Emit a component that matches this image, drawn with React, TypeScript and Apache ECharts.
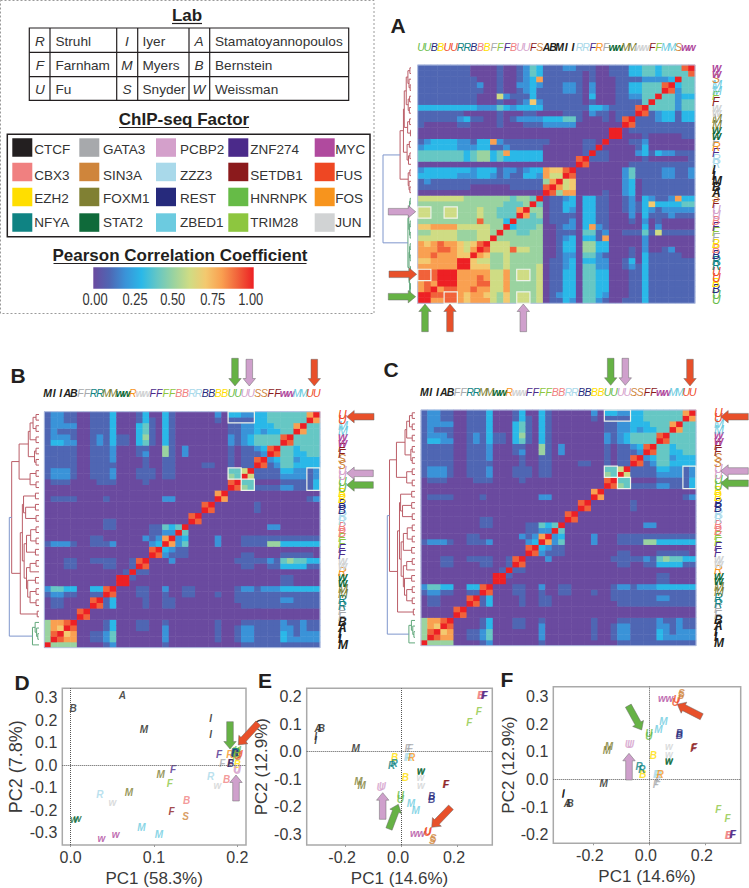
import React, { useEffect, useRef } from "react";
import * as echarts from "echarts";

const SANS = '"Liberation Sans", Arial, sans-serif';

const factorColors: Record<string, string> = {
  CTCF: "#231f20", GATA3: "#a7a9ac", PCBP2: "#d4a0cb", ZNF274: "#4b2a8a", MYC: "#b04a9e",
  CBX3: "#f08080", SIN3A: "#cf853b", ZZZ3: "#a9d9ea", SETDB1: "#8b1a1c", FUS: "#ee4723",
  EZH2: "#ffde00", FOXM1: "#808033", REST: "#262a7c", HNRNPK: "#66bb47", FOS: "#f7941d",
  NFYA: "#0f8383", STAT2: "#0f6a3a", ZBED1: "#6ccbe0", TRIM28: "#8dc63f", JUN: "#d1d3d4",
};
const boldFactors = ["CTCF", "STAT2", "MYC", "JUN"];
const factorGrid = [
  ["CTCF", "GATA3", "PCBP2", "ZNF274", "MYC"],
  ["CBX3", "SIN3A", "ZZZ3", "SETDB1", "FUS"],
  ["EZH2", "FOXM1", "REST", "HNRNPK", "FOS"],
  ["NFYA", "STAT2", "ZBED1", "TRIM28", "JUN"],
];
const labTable = [
  ["R", "Struhl", "I", "Iyer", "A", "Stamatoyannopoulos"],
  ["F", "Farnham", "M", "Myers", "B", "Bernstein"],
  ["U", "Fu", "S", "Snyder", "W", "Weissman"],
];
const colorStops = ["#6a4a9f", "#4f66b3", "#3a93d8", "#2ab8e8", "#66c7c4", "#9ad3a0", "#cfdc84", "#f3c96f", "#f9a051", "#f1623a", "#ed2024"];
const barTicks = ["0.00", "0.25", "0.50", "0.75", "1.00"];

// label, factor of each matrix position, left to right (= bottom to top)
const lettersA = "U U B B U U R R B B B F F F B U U F S A B M I I R R F R F w w M M w w F F M M S w w".split(" ");
const factorsA = ["HNRNPK","HNRNPK","REST","EZH2","FUS","FUS","NFYA","NFYA","REST","CBX3","EZH2","GATA3","TRIM28","ZNF274","CBX3","PCBP2","PCBP2","SETDB1","SIN3A","CTCF","CTCF","CTCF","CTCF","CTCF","ZZZ3","ZZZ3","ZNF274","FOS","GATA3","STAT2","STAT2","FOXM1","FOXM1","JUN","JUN","SETDB1","TRIM28","ZBED1","ZBED1","SIN3A","MYC","MYC"];
const lettersB = "M I I A B F F R R M M w w R w w F F F F B B R R B B B B U U U U S S F F w w M M U U".split(" ");
const factorsB = ["CTCF","CTCF","CTCF","CTCF","CTCF","GATA3","GATA3","NFYA","NFYA","FOXM1","FOXM1","STAT2","STAT2","FOS","JUN","JUN","ZNF274","ZNF274","TRIM28","TRIM28","CBX3","CBX3","ZZZ3","ZZZ3","REST","REST","EZH2","EZH2","HNRNPK","HNRNPK","PCBP2","PCBP2","SIN3A","SIN3A","SETDB1","SETDB1","MYC","MYC","ZBED1","ZBED1","FUS","FUS"];

// Symmetric matrices: one string per row from the top, up to the diagonal. 0-9 = tenths, a = 1.00
const rowsA = [
  "111111 110000 100124 311122 111001 113344 34449a",
  "111111 110000 100124 311111 101001 113344 34444a",
  "111111 111000 100123 811111 101000 111122 223a",
  "111111 111200 100223 211122 102000 113344 49a",
  "111111 111100 100123 111122 102000 113344 4a",
  "111111 111000 621113 111111 103000 112244 a",
  "111111 111000 100127 211111 101000 11114a",
  "333333 333222 432333 311111 113321 1119a",
  "111111 100000 100011 000011 102110 111a",
  "111111 231100 101222 233344 100010 19a",
  "100000 110000 100011 122222 000000 0a",
  "000000 000000 000000 000000 00000a a",
  "000000 000000 000000 000000 00000a",
  "123333 221338 211111 110000 0110a",
  "233333 222331 121111 100000 011a",
  "444444 434553 483333 300000 01a",
  "444444 434553 433333 300000 9a",
  "000000 000000 000000 000000 a",
  "233333 332333 122123 387 79a",
  "333333 222332 121133 286 6a",
  "121111 111111 111111 158a",
  "111111 110000 001111 19a",
  "000000 000000 000000 0a",
  "666666 655555 554554 a",
  "555555 555555 54445a",
  "665566 555655 4448a",
  "665566 555655 444a",
  "555555 555955 53a",
  "778888 666665 5a",
  "556666 555665 a",
  "666666 55566a",
  "878988 7679a",
  "888998 768a",
  "889888 77a",
  "778888 aa",
  "888888 a",
  "999aaa",
  "999aa",
  "898a",
  "89a",
  "aa",
  "a",
];
const rowsB = [
  "122110 011130 001300 310000 002033 223344 44448a",
  "122110 011130 001310 310000 001011 113344 4444a",
  "122220 011130 003410 310000 000011 223334 448a",
  "121110 011130 003410 310000 000011 223233 44a",
  "122210 012131 103510 310000 000021 234444 9a",
  "133220 012131 103410 310000 000021 234444 a",
  "111110 011120 001100 510200 000010 11239a",
  "111110 011120 001200 510200 000010 1112a",
  "111110 011120 000100 110000 000010 119a",
  "111110 011110 000100 110000 110010 11a",
  "122210 011120 001110 110000 000044 6a",
  "122210 011120 001110 110000 000054 a",
  "011100 001110 000100 000000 00009a",
  "000000 000000 000000 000000 0000a",
  "000000 000000 000000 000000 008a",
  "011110 000100 000000 220000 00a",
  "000000 000000 000000 000000 9a",
  "000000 000000 000000 000000 a",
  "000000 000000 000000 00009a",
  "000000 000110 000000 0000a",
  "000000 000110 000011 434a",
  "000000 000000 000011 22a",
  "000000 011000 000212 8a",
  "122210 011120 000023 a",
  "000000 000000 00009a",
  "000000 000000 0000a",
  "000110 011110 019a",
  "000110 000110 01a",
  "000000 000000 1a",
  "000000 00000a a",
  "000000 00000a",
  "244330 03 39a",
  "122110 011a",
  "011000 09a",
  "011000 0a",
  "000009 a",
  "00000a",
  "58 89a",
  "587a",
  "59a",
  "5a",
  "a",
];

// Dendrograms: [height, child, child, colour key], leaves are row numbers from the top
type Tree = number | [number, Tree, Tree, string?];
const treeA: Tree = [1,
  [.39,
    [.27,
      [.24,
        [.17, [.11, [.04, 0, 1], [.07, 2, [.03, 3, 4]]], [.1, [.05, 5, 6], [.06, 7, 8]]],
        [.12, [.05, 9, 10], [.02, 11, 12]]],
      [.14, [.06, 13, 14], [.09, [.04, 15, 16], 17]]],
    [.1, [.04, 18, 19], [.07, 20, [.04, 21, 22]]], "red"],
  [.11,
    [.08, [.05, [.03, 23, 24], [.03, 25, 26]], [.05, [.03, 27, 28], [.03, 29, 30]]],
    [.07, [.05, [.03, 31, 32], [.03, 33, 34]], [.05, [.03, [.02, 35, 36], 37], [.03, [.02, 38, 39], [.02, 40, 41]]]], "green"],
  "blue"];
const treeB: Tree = [1,
  [.92,
    [.67,
      [.36, [.3, [.2, [.1, 0, 1], [.1, 2, 3]], [.1, 4, 5]], [.15, [.1, 6, 7], [.1, 8, 9]]],
      [.3, [.1, 10, 11], [.1, 12, 13]]],
    [.63,
      [.56,
        [.52, [.12, 14, 15], [.45, [.12, 16, 17], [.1, 18, 19]]],
        [.5,
          [.42, [.28, [.1, 20, 21], [.1, 22, 23]], [.12, 24, 25]],
          [.42, [.3, [.1, 26, 27], 28], [.38, [.12, 29, 30], [.3, [.1, 31, 32], [.1, 33, 34]]]]]],
      [.06, 35, 36]], "red"],
  [.22, [.13, 37, [.08, 38, [.04, 39, 40]]], 41, "green"],
  "blue"];
const treeColors: Record<string, string> = { red: "#bb5e68", green: "#62a87c", blue: "#7f96cc" };

// PCA points: [PC1, PC2, letter, factor]
type P = [number, number, string, string];
const pointsD: P[] = [
  [.062,.31,"A","CTCF"],[.003,.254,"B","CTCF"],[.088,.16,"M","CTCF"],[.168,.21,"I","CTCF"],[.168,.137,"I","CTCF"],
  [.178,.05,"F","ZNF274"],[.182,.006,"F","GATA3"],[.197,.048,"F","GATA3"],[.191,.05,"R","FOS"],
  [.192,.006,"F","SETDB1"],[.192,.01,"B","REST"],[.2,.002,"B","EZH2"],[.2,.055,"B","EZH2"],
  [.199,-.02,"U","PCBP2"],[.2,-.022,"U","PCBP2"],[.2,.065,"U","HNRNPK"],[.198,.06,"U","HNRNPK"],
  [.202,.05,"U","FUS"],[.2,.045,"U","FUS"],[.201,.04,"S","SIN3A"],[.196,.055,"R","NFYA"],[.198,.055,"R","NFYA"],
  [.168,-.05,"R","ZZZ3"],[.176,-.088,"w","JUN"],[.187,-.065,"B","CBX3"],[.197,.052,"B","REST"],
  [.108,-.043,"M","FOXM1"],[.123,-.018,"F","ZNF274"],[.119,-.083,"F","TRIM28"],[.198,.04,"F","TRIM28"],
  [.035,-.128,"R","ZZZ3"],[.05,-.166,"w","JUN"],[.07,-.122,"M","FOXM1"],[.139,-.157,"B","CBX3"],
  [.121,-.207,"F","SETDB1"],[.138,-.226,"S","SIN3A"],[.004,-.24,"w","STAT2"],[.008,-.236,"w","STAT2"],
  [.085,-.278,"M","ZBED1"],[.106,-.306,"M","ZBED1"],[.054,-.306,"w","MYC"],[.037,-.324,"w","MYC"],
];
const pointsE: P[] = [
  [-.298,.083,"A","CTCF"],[-.287,.083,"B","CTCF"],[-.307,.055,"I","CTCF"],[-.307,.042,"I","CTCF"],[-.164,.011,"M","CTCF"],
  [.021,.013,"F","GATA3"],[.03,.013,"F","GATA3"],[.021,-.02,"R","ZZZ3"],[.026,-.02,"R","ZZZ3"],[.036,-.02,"R","FOS"],
  [-.025,-.02,"B","EZH2"],[.013,-.093,"B","EZH2"],[-.036,-.049,"R","NFYA"],[-.027,-.042,"R","NFYA"],
  [.069,-.073,"w","STAT2"],[.069,-.068,"w","STAT2"],[.067,-.093,"w","JUN"],[.069,-.124,"w","JUN"],
  [.157,-.118,"F","SETDB1"],[.16,-.118,"F","SETDB1"],[-.154,-.109,"M","FOXM1"],[-.143,-.121,"M","FOXM1"],
  [-.077,-.131,"U","PCBP2"],[-.069,-.127,"U","PCBP2"],[-.004,-.16,"U","HNRNPK"],[-.004,-.174,"U","HNRNPK"],
  [.107,-.164,"B","REST"],[.107,-.174,"B","REST"],[.033,-.188,"M","ZBED1"],[.05,-.215,"M","ZBED1"],
  [.044,-.297,"w","MYC"],[.07,-.297,"w","MYC"],[.095,-.291,"U","FUS"],[.092,-.295,"U","FUS"],
  [.113,-.316,"S","SIN3A"],[.11,-.322,"S","SIN3A"],[.282,.203,"B","CBX3"],[.285,.203,"B","CBX3"],
  [.294,.204,"F","ZNF274"],[.297,.204,"F","ZNF274"],[.276,.146,"F","TRIM28"],[.242,.107,"F","TRIM28"],
];
const pointsF: P[] = [
  [-.293,-.087,"A","CTCF"],[-.283,-.087,"B","CTCF"],[-.307,-.05,"I","CTCF"],[-.308,-.056,"I","CTCF"],[-.163,-.014,"M","CTCF"],
  [.023,-.017,"F","GATA3"],[.03,-.008,"F","GATA3"],[.026,.016,"R","ZZZ3"],[.03,.016,"R","ZZZ3"],[.038,.016,"R","FOS"],
  [-.023,.016,"B","EZH2"],[.014,.088,"B","EZH2"],[-.037,.045,"R","NFYA"],[-.027,.037,"R","NFYA"],
  [.07,.069,"w","STAT2"],[.07,.064,"w","STAT2"],[.07,.09,"w","JUN"],[.07,.12,"w","JUN"],
  [.16,.114,"F","SETDB1"],[.157,.112,"F","SETDB1"],[-.144,.118,"M","FOXM1"],[-.152,.104,"M","FOXM1"],
  [-.075,.127,"U","PCBP2"],[-.067,.127,"U","PCBP2"],[-.002,.166,"U","HNRNPK"],[-.002,.154,"U","HNRNPK"],
  [.107,.166,"B","REST"],[.107,.157,"B","REST"],[.05,.208,"M","ZBED1"],[.032,.181,"M","ZBED1"],
  [.045,.293,"w","MYC"],[.071,.293,"w","MYC"],[.098,.287,"U","FUS"],[.093,.278,"U","FUS"],
  [.115,.311,"S","SIN3A"],[.112,.305,"S","SIN3A"],[.282,-.204,"B","CBX3"],[.285,-.204,"B","CBX3"],
  [.296,-.201,"F","ZNF274"],[.299,-.201,"F","ZNF274"],[.246,-.108,"F","TRIM28"],[.279,-.143,"F","TRIM28"],
];

const ARROW = { green: "#66b245", red: "#e8502a", pink: "#cfa0cc" } as Record<string, string>;
const arrows: [number, number, number, number, string][] = [
  [388.3,211.7,415.7,211.7,"pink"],[389,274.3,416.7,274.3,"red"],[388.3,296.7,415.7,296.7,"green"],
  [425,331.7,425,304,"green"],[450,331.7,450,304,"red"],[523.3,331.7,523.3,304,"pink"],
  [235,358.3,235,386,"green"],[249.3,359.3,249.3,386,"pink"],[314.3,359.3,314.3,386,"red"],
  [374,416.7,346.7,416.7,"red"],[373.3,473.3,346.7,473.3,"pink"],[373.3,485,346.7,485,"green"],
  [610.7,358.3,610.7,385.3,"green"],[625.3,358.3,625.3,385.3,"pink"],[690,359.3,690,386,"red"],
  [748.3,416.7,720.7,416.7,"red"],[748.3,471,720.7,471,"pink"],[748.3,483.3,720.7,483.3,"green"],
  [230,721.7,230,749,"green"],[258.3,723.3,238.3,745,"red"],[236,801,236,775,"pink"],
  [382.7,819.3,382.7,792.7,"pink"],[389,829,398.3,804.3,"green"],[451,807.3,431.7,827.3,"red"],
  [629,780,629,753.3,"pink"],[628.3,705.7,641.7,730,"green"],[701.7,716.7,677.3,704.3,"red"],
];
const panelLetters: [string, number, number][] = [["A",398,25],["B",18,375],["C",391,369],["D",22,682],["E",265,680],["F",507,679]];

function decode(rows: string[]) {
  const clean = rows.map((s) => s.replace(/\s/g, ""));
  const out: number[][] = [];
  const val = (i: number, j: number) => {
    const ch = clean[41 - i]?.[j] ?? "0";
    return ch === "a" ? 1 : Number(ch) / 10;
  };
  for (let i = 0; i < 42; i++) for (let j = 0; j < 42; j++) out.push([i, j, j <= i ? val(i, j) : val(j, i)]);
  return out;
}

function treeSegments(t: Tree) {
  const segs: number[][] = [];
  const keys = Object.keys(treeColors);
  const walk = (n: Tree, color: string): { y: number; h: number } => {
    if (typeof n === "number") return { y: 41 - n, h: 0 };
    const c = n[3] ?? color;
    const a = walk(n[1], c);
    const b = walk(n[2], c);
    const k = keys.indexOf(c);
    segs.push([n[0], a.y, n[0], b.y, k], [a.h, a.y, n[0], a.y, k], [b.h, b.y, n[0], b.y, k]);
    return { y: (a.y + b.y) / 2, h: n[0] };
  };
  walk(t, "red");
  return segs;
}

const richFor = (size: number) => {
  const r: any = {};
  Object.keys(factorColors).forEach((k) => {
    r[k] = { color: factorColors[k], fontStyle: "italic", fontFamily: SANS, fontSize: size, fontWeight: boldFactors.includes(k) ? "bold" : "normal" };
  });
  return r;
};

function App() {
  const ref = useRef<HTMLDivElement>(null);
  useEffect(() => {
    document.body.style.margin = "0";
    const chart = echarts.init(ref.current!, undefined, { renderer: "svg" });

    const heat = [
      { left: 417.7, top: 65, width: 277.3, height: 238.3, letters: lettersA, factors: factorsA, rows: rowsA, offs: 17 },
      { left: 44.3, top: 411.7, width: 275.7, height: 236, letters: lettersB, factors: factorsB, rows: rowsB, offs: 18 },
      { left: 421, top: 410, width: 275, height: 235.7, letters: lettersB, factors: factorsB, rows: rowsB, offs: 18 },
    ];
    const dendro = [
      { left: 383, right: 411, top: 65, height: 238.3, tree: treeA },
      { left: 9.3, right: 39, top: 411.7, height: 236, tree: treeB },
      { left: 387.3, right: 415, top: 410, height: 235.7, tree: treeB },
    ];
    const pca = [
      { left: 62.3, right: 246, top: 688.3, bottom: 845, xr: [-.01, .2104], yr: [-.354, .342], xt: [0, .1, .2], yt: [-.3, -.2, -.1, 0, .1, .2, .3], pts: pointsD, xn: "PC1 (58.3%)", yn: "PC2 (7.8%)", ys: 18, pad: 0, ygap: 37 },
      { left: 306.7, right: 492.3, top: 688.3, bottom: 845, xr: [-.339, .324], yr: [-.339, .2305], xt: [-.2, 0, .2], yt: [-.3, -.2, -.1, 0, .1, .2], pts: pointsE, xn: "PC1 (14.6%)", yn: "PC2 (12.9%)", ys: 17, pad: 7, ygap: 26 },
      { left: 553.3, right: 740.7, top: 686.7, bottom: 843.3, xr: [-.343, .326], yr: [-.231, .335], xt: [-.2, 0, .2], yt: [-.2, -.1, 0, .1, .2, .3], pts: pointsF, xn: "PC1 (14.6%)", yn: "PC2 (12.9%)", ys: 17, pad: 7, ygap: 27 },
    ];

    const grid: any[] = [];
    const xAxis: any[] = [];
    const yAxis: any[] = [];
    const series: any[] = [];
    const g: any[] = [];

    const text = (t: string, x: number, y: number, font: string, fill = "#231f20", align = "left", extra: any = {}) => ({
      type: "text", x, y, z: 20, silent: true, ...extra,
      style: { text: t, font, fill, align, verticalAlign: "middle", textAlign: align, textVerticalAlign: "middle" },
    });
    const line = (x1: number, y1: number, x2: number, y2: number, stroke = "#231f20", lineWidth = 1) => ({
      type: "line", z: 20, silent: true, shape: { x1, y1, x2, y2 }, style: { stroke, lineWidth },
    });

    heat.forEach((h, idx) => {
      grid.push({ left: h.left, top: h.top, width: h.width, height: h.height, containLabel: false });
      const labelFmt = (_: string, i: number) => `{${h.factors[i]}|${h.letters[i]}}`;
      xAxis.push({
        type: "category", gridIndex: idx, position: "top", data: h.letters,
        axisLine: { show: false }, axisTick: { show: false }, splitLine: { show: false },
        axisLabel: { interval: 0, margin: 13, formatter: labelFmt, rich: richFor(10.5), hideOverlap: false },
      });
      yAxis.push({
        type: "category", gridIndex: idx, position: "right", data: h.letters,
        axisLine: { show: false }, axisTick: { show: false }, splitLine: { show: false },
        axisLabel: { interval: 0, margin: h.offs, formatter: labelFmt, rich: richFor(12), hideOverlap: false },
      });
      series.push({
        type: "heatmap", xAxisIndex: idx, yAxisIndex: idx, data: decode(h.rows), silent: true,
        progressive: 0, emphasis: { disabled: true },
      });
      g.push({ type: "rect", z: 15, silent: true, shape: { x: h.left, y: h.top, width: h.width, height: h.height }, style: { fill: "none", stroke: "#b6c3e3", lineWidth: 1 } });
    });

    dendro.forEach((d) => {
      const idx = grid.length;
      grid.push({ left: d.left, top: d.top, width: d.right - d.left, height: d.height });
      xAxis.push({ type: "value", gridIndex: idx, inverse: true, min: 0, max: 1, show: false, splitLine: { show: false } });
      yAxis.push({ type: "value", gridIndex: idx, min: -0.5, max: 41.5, show: false, splitLine: { show: false } });
      series.push({
        type: "custom", xAxisIndex: idx, yAxisIndex: idx, silent: true, clip: false,
        data: treeSegments(d.tree),
        encode: { x: [0, 2], y: [1, 3] },
        renderItem: (_: any, api: any) => {
          const a = api.coord([api.value(0), api.value(1)]);
          const b = api.coord([api.value(2), api.value(3)]);
          return {
            type: "line", shape: { x1: a[0], y1: a[1], x2: b[0], y2: b[1] },
            style: { stroke: Object.values(treeColors)[api.value(4)], lineWidth: 1, fill: "none" },
          };
        },
      });
    });

    pca.forEach((p) => {
      const idx = grid.length;
      grid.push({ left: p.left, top: p.top, width: p.right - p.left, height: p.bottom - p.top, show: true, borderColor: "#a9a9a9", borderWidth: 1.5 });
      const fmt = (v: number) => Number(v).toFixed(1);
      xAxis.push({
        type: "value", gridIndex: idx, min: p.xr[0], max: p.xr[1], position: "bottom",
        name: p.xn, nameLocation: "middle", nameGap: 25, nameTextStyle: { fontFamily: SANS, fontSize: 17, color: "#3a3a3a" },
        axisLine: { show: false, onZero: false }, splitLine: { show: false },
        axisTick: { show: true, length: 2, customValues: p.xt, lineStyle: { color: "#999" } },
        axisLabel: { customValues: p.xt, formatter: fmt, margin: 4, fontFamily: SANS, fontSize: 16, color: "#3a3a3a", padding: [0, p.pad, 0, 0], showMinLabel: true, showMaxLabel: true },
      });
      yAxis.push({
        type: "value", gridIndex: idx, min: p.yr[0], max: p.yr[1], position: "left",
        name: p.yn, nameLocation: "middle", nameGap: p.ygap, nameTextStyle: { fontFamily: SANS, fontSize: p.ys, color: "#3a3a3a" },
        axisLine: { show: false, onZero: false }, splitLine: { show: false }, axisTick: { show: false },
        axisLabel: { customValues: p.yt, formatter: fmt, margin: 5, fontFamily: SANS, fontSize: 16, color: "#3a3a3a" },
      });
      series.push({
        type: "scatter", xAxisIndex: idx, yAxisIndex: idx, symbolSize: 1, silent: true,
        itemStyle: { color: "rgba(0,0,0,0)" },
        data: p.pts.map((q) => ({
          value: [q[0], q[1]], name: q[2],
          label: { show: true, position: "inside", formatter: q[2], color: factorColors[q[3]], textBorderWidth: 0, textBorderColor: "transparent", fontFamily: SANS, fontSize: 10, fontStyle: "italic", fontWeight: "bold" },
        })),
        markLine: {
          silent: true, symbol: "none", animation: false, label: { show: false },
          lineStyle: { type: "dotted", color: "#555", width: 1 },
          data: [{ xAxis: 0 }, { yAxis: 0 }],
        },
      });
    });

    // Legend box
    g.push({ type: "rect", silent: true, shape: { x: 0.5, y: 0.5, width: 373.5, height: 313 }, style: { fill: "none", stroke: "#9a9a9a", lineWidth: 1, lineDash: [2, 2] } });
    const title = (t: string, cx: number, cy: number, w: number) => {
      g.push(text(t, cx, cy, `bold 17px ${SANS}`, "#231f20", "center"));
      g.push(line(cx - w / 2, cy + 8.5, cx + w / 2, cy + 8.5, "#231f20", 1.2));
    };
    title("Lab", 187, 15, 30);
    title("ChIP-seq Factor", 184, 119, 130);
    title("Pearson Correlation Coefficient", 180, 255, 253);

    g.push({ type: "rect", z: 20, silent: true, shape: { x: 29.3, y: 28, width: 319.4, height: 72.3 }, style: { fill: "none", stroke: "#231f20", lineWidth: 1.2 } });
    [52.3, 76.7].forEach((y) => g.push(line(29.3, y, 348.7, y, "#231f20", 1.2)));
    const colX = [50, 116.7, 137.7, 189, 209.7];
    colX.forEach((x) => g.push(line(x, 28, x, 100.3, "#231f20", 1.2)));
    const cellCx = [40, 55.5, 127, 142.5, 199, 215];
    const rowCy = [41, 65, 89];
    labTable.forEach((row, r) =>
      row.forEach((t, c) => {
        const italic = c % 2 === 0;
        g.push(text(t, cellCx[c], rowCy[r], `${italic ? "italic " : ""}13.6px ${SANS}`, "#333", italic ? "center" : "left"));
      })
    );

    g.push({ type: "rect", z: 20, silent: true, shape: { x: 7.3, y: 134.3, width: 362.7, height: 102.4 }, style: { fill: "none", stroke: "#231f20", lineWidth: 1.5 } });
    const swX = [12.3, 79.3, 156, 228.3, 314.7];
    const txX = [34.3, 103, 180, 250.3, 335.3];
    const swY = [138.3, 162.7, 187.7, 213.3];
    const txY = [149, 175.7, 198.7, 222.3];
    factorGrid.forEach((row, r) =>
      row.forEach((f, c) => {
        g.push({ type: "rect", z: 20, silent: true, shape: { x: swX[c], y: swY[r], width: 20, height: 18.5 }, style: { fill: factorColors[f] } });
        g.push(text(f, txX[c], txY[r], `13.5px ${SANS}`, "#333"));
      })
    );

    // Colour bar
    g.push({
      type: "rect", z: 20, silent: true, shape: { x: 93.3, y: 267.3, width: 160.4, height: 21.4 },
      style: {
        fill: new echarts.graphic.LinearGradient(0, 0, 1, 0, colorStops.map((color, i) => ({ offset: i / 10, color }))),
      },
    });
    [95, 135, 172.7, 212.7, 250.7].forEach((x, i) => {
      g.push(text(barTicks[i], x, 299.3, `17px ${SANS}`, "#333", "center", { scaleX: 0.76 }));
    });

    // White boxes on the heatmaps, [col, row, cols, rows]
    const boxesA = [[0,25,2,2],[4,25,2,2],[0,36,2,2],[4,40,2,2],[15,36,2,2],[15,40,2,2]];
    const boxesB = [[28,0,4,2],[28,10,2,2],[30,12,2,2],[40,10,2,4]];
    heat.forEach((h, i) => {
      const cw = h.width / 42, ch = h.height / 42;
      (i === 0 ? boxesA : boxesB).forEach((b) =>
        g.push({ type: "rect", z: 16, silent: true, shape: { x: h.left + b[0] * cw, y: h.top + b[1] * ch, width: b[2] * cw, height: b[3] * ch }, style: { fill: "none", stroke: "#eef3ea", lineWidth: 1.2 } })
      );
    });

    // Arrows
    arrows.forEach(([x1, y1, x2, y2, c]) => {
      const L = Math.hypot(x2 - x1, y2 - y1);
      const ux = (x2 - x1) / L, uy = (y2 - y1) / L;
      const nx = -uy, ny = ux;
      const s = 3.3, w = 6.2, hl = 7.5;
      const bx = x2 - ux * hl, by = y2 - uy * hl;
      g.push({
        type: "polygon", z: 25, silent: true,
        shape: {
          points: [
            [x1 + nx * s, y1 + ny * s], [bx + nx * s, by + ny * s], [bx + nx * w, by + ny * w], [x2, y2],
            [bx - nx * w, by - ny * w], [bx - nx * s, by - ny * s], [x1 - nx * s, y1 - ny * s],
          ],
        },
        style: { fill: ARROW[c], stroke: "#6b6b6b", lineWidth: 0.5 },
      });
    });

    panelLetters.forEach(([t, x, y]) => g.push(text(t, x, y, `bold 21px ${SANS}`, "#231f20", "center")));

    chart.setOption({
      animation: false,
      backgroundColor: "#ffffff",
      textStyle: { fontFamily: SANS },
      grid, xAxis, yAxis, series,
      visualMap: { type: "continuous", show: false, min: 0, max: 1, seriesIndex: [0, 1, 2], dimension: 2, inRange: { color: colorStops } },
      graphic: { elements: g },
    });
    return () => chart.dispose();
  }, []);
  return <div ref={ref} style={{ width: 749, height: 888 }} />;
}

export default App;
